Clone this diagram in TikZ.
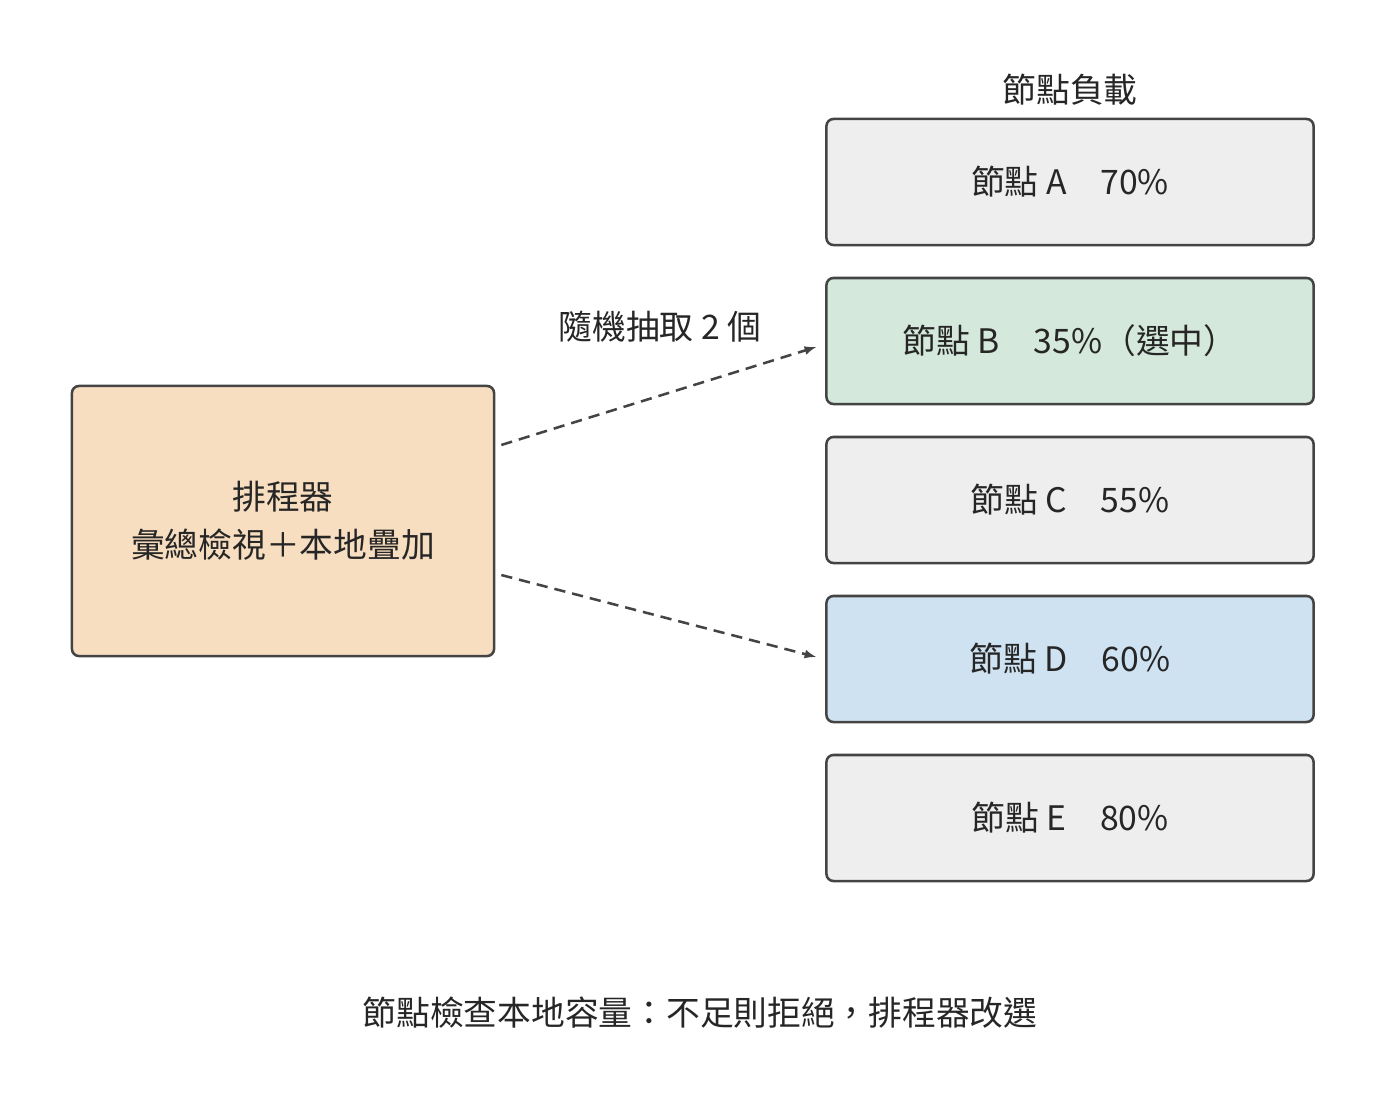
\documentclass[tikz,border=0pt]{standalone}
\usepackage{fontspec}
\setmainfont{Noto Sans CJK TC}
\usetikzlibrary{positioning}
\definecolor{edge}{HTML}{444444}
\definecolor{grayfill}{HTML}{EEEEEE}
\definecolor{greenfill}{HTML}{D4E8DB}
\definecolor{bluefill}{HTML}{CFE2F2}
\definecolor{orangefill}{HTML}{F8DEC0}
\tikzset{
  box/.style={draw=edge,line width=1.8pt,rounded corners=5pt,align=center,
    minimum width=12.175cm,minimum height=3.15cm,text=black!85},
  pick/.style={draw=edge,line width=1.8pt,dashed,dash pattern=on 8pt off 5pt,-latex},
  lbl/.style={text=black!85},
}
\begin{document}
\fontsize{24}{34}\selectfont
\begin{tikzpicture}[x=0.025cm,y=-0.025cm]
  \useasboundingbox (0,0) rectangle (1400,1104);
  \node[box,fill=orangefill,minimum width=10.55cm,minimum height=6.75cm] (sched) at (283,521) {排程器\\彙總檢視＋本地疊加};
  \node[box,fill=grayfill] (na) at (1070,182) {節點 A\quad 70\%};
  \node[box,fill=greenfill] (nb) at (1070,341) {節點 B\quad 35\%（選中）};
  \node[box,fill=grayfill] (nc) at (1070,500) {節點 C\quad 55\%};
  \node[box,fill=bluefill] (nd) at (1070,659) {節點 D\quad 60\%};
  \node[box,fill=grayfill] (ne) at (1070,818) {節點 E\quad 80\%};
  \node[lbl] (title) at (1070,90) {節點負載};
  \node[lbl] (randlbl) at (660,327) {隨機抽取 2 個};
  \node[lbl] (note) at (700,1013) {節點檢查本地容量：不足則拒絕，排程器改選};

  \draw[pick] ([shift={(0.15cm,1.9cm)}]sched.east) -- ([shift={(-0.225cm,-0.15cm)}]nb.west);
  \draw[pick] ([shift={(0.15cm,-1.35cm)}]sched.east) -- ([shift={(-0.225cm,0.05cm)}]nd.west);
\end{tikzpicture}
\end{document}
